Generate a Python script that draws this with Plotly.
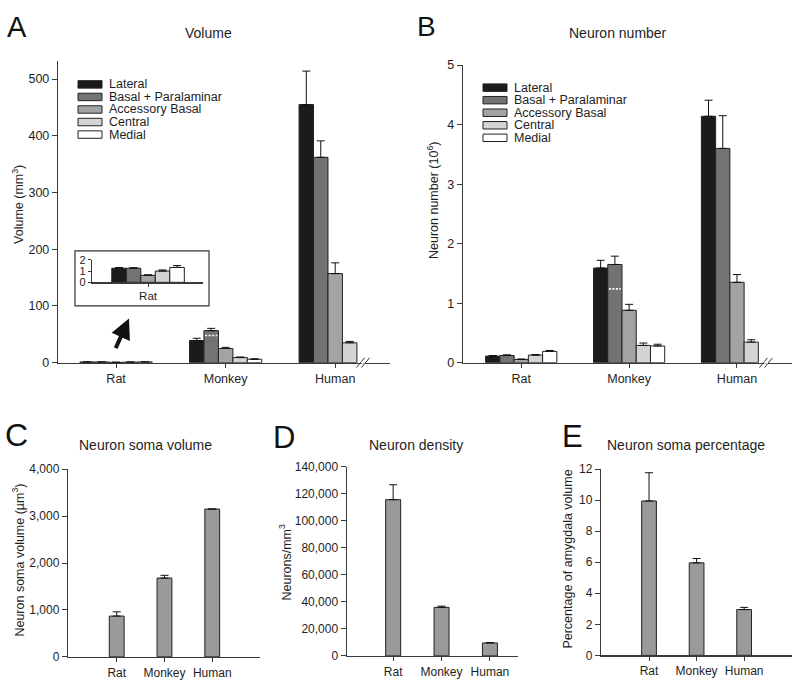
import plotly.graph_objects as go

# ---------------- data ----------------
species = ["Rat", "Monkey", "Human"]
regions = ["Lateral", "Basal + Paralaminar", "Accessory Basal", "Central", "Medial"]
region_colors = ["#1b1b1b", "#737373", "#a3a3a3", "#d4d4d4", "#ffffff"]

# Panel A: volume (mm3), per region, [Rat, Monkey, Human]
vol_lateral = [1.25, 39, 455]
vol_basal = [1.25, 56.5, 362]
vol_accbasal = [0.62, 25, 157]
vol_central = [1.0, 9, 35]
vol_medial = [1.32, 6, None]
vol_err_lateral = [0.06, 4, 59]
vol_err_basal = [0.05, 4, 29]
vol_err_accbasal = [0.05, 2, 19]
vol_err_central = [0.1, 1, 2.5]
vol_err_medial = [0.17, 0.8, None]

# Panel B: neuron number (10^6)
num_lateral = [0.11, 1.59, 4.14]
num_basal = [0.12, 1.65, 3.60]
num_accbasal = [0.055, 0.88, 1.35]
num_central = [0.127, 0.29, 0.345]
num_medial = [0.19, 0.28, None]
num_err_lateral = [0.01, 0.13, 0.27]
num_err_basal = [0.012, 0.14, 0.55]
num_err_accbasal = [0.005, 0.10, 0.13]
num_err_central = [0.01, 0.04, 0.04]
num_err_medial = [0.015, 0.03, None]

# basal-only level inside monkey Basal+Paralaminar bar (dotted line)
basal_only_monkey_vol = 48
basal_only_monkey_num = 1.24

# Panel C: neuron soma volume (um3)
soma_vol = [870, 1680, 3150]
soma_vol_err = [90, 58, 0]
# Panel D: neuron density (neurons/mm3)
density = [115500, 35900, 9600]
density_err = [11000, 900, 300]
# Panel E: neuron soma percentage of amygdala volume
soma_pct = [9.95, 5.96, 2.95]
soma_pct_err = [1.82, 0.28, 0.14]

vol_series = [vol_lateral, vol_basal, vol_accbasal, vol_central, vol_medial]
vol_errs = [vol_err_lateral, vol_err_basal, vol_err_accbasal, vol_err_central, vol_err_medial]
num_series = [num_lateral, num_basal, num_accbasal, num_central, num_medial]
num_errs = [num_err_lateral, num_err_basal, num_err_accbasal, num_err_central, num_err_medial]

# ---------------- helpers ----------------
W, H = 800, 693
FONT = "Arial, Liberation Sans, sans-serif"
TXT = "#1e1e1e"
LINE = "#3a3a3a"
BARGAP = 0.34


def px(x):
    return x / W


def py(y):
    return 1 - y / H


def errbar(arr):
    return dict(type="data", symmetric=False, array=arr,
                arrayminus=[0 if a is not None else None for a in arr],
                color="#111", thickness=1, width=4, visible=True)


fig = go.Figure()
xs = list(range(len(species)))

# Panel A and B grouped bars
for i, name in enumerate(regions):
    fig.add_trace(go.Bar(x=xs, y=vol_series[i], name=name, error_y=errbar(vol_errs[i]),
                         marker=dict(color=region_colors[i], line=dict(color="#222", width=1)),
                         xaxis="x", yaxis="y", showlegend=False))
    fig.add_trace(go.Bar(x=xs, y=num_series[i], name=name, error_y=errbar(num_errs[i]),
                         marker=dict(color=region_colors[i], line=dict(color="#222", width=1)),
                         xaxis="x2", yaxis="y2", showlegend=False))
    # inset (rat only)
    fig.add_trace(go.Bar(x=[0], y=[vol_series[i][0]], name=name, error_y=errbar([vol_errs[i][0]]),
                         marker=dict(color=region_colors[i], line=dict(color="#222", width=1)),
                         xaxis="x6", yaxis="y6", showlegend=False))

# dotted white line inside monkey Basal+Paralaminar bar
bw = (1 - BARGAP) / len(regions)
bc = 1 + (1 - 2) * bw
for yv, xa, ya in [(basal_only_monkey_vol, "x", "y"), (basal_only_monkey_num, "x2", "y2")]:
    fig.add_trace(go.Scatter(x=[bc - bw * 0.42, bc + bw * 0.42], y=[yv, yv], mode="lines",
                             line=dict(color="white", width=1.6, dash="2px,1.5px"),
                             xaxis=xa, yaxis=ya, showlegend=False, hoverinfo="skip"))

# Panels C, D, E
for vals, errs, xa, ya in [(soma_vol, soma_vol_err, "x3", "y3"),
                           (density, density_err, "x4", "y4"),
                           (soma_pct, soma_pct_err, "x5", "y5")]:
    fig.add_trace(go.Bar(x=xs, y=vals, width=0.31, error_y=errbar(errs),
                         marker=dict(color="#9a9a9a", line=dict(color="#222", width=1)),
                         xaxis=xa, yaxis=ya, showlegend=False))

# ---------------- axes ----------------
def xaxis(dom, rng, anchor, tickvals=xs, ticktext=species, size=12.5):
    return dict(domain=dom, range=rng, anchor=anchor, tickvals=tickvals, ticktext=ticktext,
                showline=True, linecolor=LINE, linewidth=1.2, ticks="outside", ticklen=4,
                tickcolor=LINE, showgrid=False, zeroline=False,
                tickfont=dict(family=FONT, size=size, color=TXT), fixedrange=True)


def yaxis(dom, rng, anchor, dtick, fmt=None, size=12.5):
    d = dict(domain=dom, range=rng, anchor=anchor, dtick=dtick, tick0=0,
             showline=True, linecolor=LINE, linewidth=1.2, ticks="outside", ticklen=5,
             tickcolor=LINE, showgrid=False, zeroline=False,
             tickfont=dict(family=FONT, size=size, color=TXT), fixedrange=True)
    if fmt:
        d["tickformat"] = fmt
    return d


fig.update_layout(
    xaxis=xaxis([px(58), px(390)], [-0.53, 2.5], "y"),
    yaxis=yaxis([py(363), py(55)], [0, 532], "x", 100),
    xaxis2=xaxis([px(463), px(792)], [-0.54, 2.51], "y2"),
    yaxis2=yaxis([py(363), py(59.3)], [0, 5], "x2", 1),
    xaxis3=xaxis([px(68), px(260)], [-1.02, 3.0], "y3", size=12),
    yaxis3=yaxis([py(663.3), py(471.7)], [0, 4000], "x3", 1000, ",d", size=12),
    xaxis4=xaxis([px(346.7), px(518)], [-0.96, 2.58], "y4", size=12),
    yaxis4=yaxis([py(662.3), py(469)], [0, 140000], "x4", 20000, ",d", size=12),
    xaxis5=xaxis([px(601), px(791.7)], [-1.01, 3.0], "y5", size=12),
    yaxis5=yaxis([py(661.7), py(471.7)], [0, 12], "x5", 2, size=12),
    xaxis6=xaxis([px(92), px(203)], [-0.51, 0.5], "y6", tickvals=[0], ticktext=["Rat"], size=11.5),
    yaxis6=yaxis([py(281), py(258)], [0, 2], "x6", 1, size=11),
)
fig.layout.xaxis6.ticklen = 3
fig.layout.yaxis6.ticklen = 3

shapes = []
annotations = []

# inset frame
shapes.append(dict(type="rect", xref="paper", yref="paper", x0=px(75), x1=px(209), y0=py(305), y1=py(249),
                   line=dict(color="#333", width=1.2), fillcolor="rgba(0,0,0,0)", layer="below"))

# axis break marks
for bx, by in [(363, 363), (766, 363)]:
    for dx in (-2.5, 2.5):
        shapes.append(dict(type="line", xref="paper", yref="paper",
                           x0=px(bx + dx - 4), y0=py(by + 5), x1=px(bx + dx + 4), y1=py(by - 5),
                           line=dict(color="#333", width=1)))
    shapes.append(dict(type="rect", xref="paper", yref="paper", x0=px(bx - 2), x1=px(bx + 2),
                       y0=py(by + 1), y1=py(by - 1), line=dict(width=0), fillcolor="white"))

# custom legends
for lx, ly, tx in [(78, 79, 107), (483, 82.3, 512)]:
    for i, name in enumerate(regions):
        yc = ly + i * 12.8
        shapes.append(dict(type="rect", xref="paper", yref="paper", x0=px(lx), x1=px(lx + 24),
                           y0=py(yc + 3.8), y1=py(yc - 3.8),
                           line=dict(color="#222", width=1), fillcolor=region_colors[i]))
        annotations.append(dict(x=px(tx), y=py(yc), xref="paper", yref="paper", text=name,
                                showarrow=False, xanchor="left", yanchor="middle",
                                font=dict(family=FONT, size=12.5, color=TXT)))

# titles
for t, x, y in [("Volume", 208, 27), ("Neuron number", 618, 27), ("Neuron soma volume", 145, 447),
                ("Neuron density", 416, 447), ("Neuron soma percentage", 686, 447)]:
    annotations.append(dict(x=px(x), y=py(y), xref="paper", yref="paper", text=t, showarrow=False,
                            xanchor="center", yanchor="middle", font=dict(family=FONT, size=14, color=TXT)))

# panel letters
for t, x, y, s in [("A", 17, 20, 29), ("B", 427, 20, 28), ("C", 16, 437, 32),
                   ("D", 284, 439, 31), ("E", 572, 438, 31)]:
    annotations.append(dict(x=px(x), y=py(y), xref="paper", yref="paper", text=t, showarrow=False,
                            xanchor="center", yanchor="middle", font=dict(family=FONT, size=s, color="#111")))

# y-axis titles
for t, x, y in [("Volume (mm<sup>3</sup>)", 18, 202), ("Neuron number (10<sup>6</sup>)", 433, 198),
                ("Neuron soma volume (µm<sup>3</sup>)", 18, 565), ("Neurons/mm<sup>3</sup>", 285, 567),
                ("Percentage of amygdala volume", 568, 564)]:
    annotations.append(dict(x=px(x), y=py(y), xref="paper", yref="paper", text=t, showarrow=False,
                            textangle=-90, xanchor="center", yanchor="middle",
                            font=dict(family=FONT, size=12.5, color=TXT)))

# arrow pointing to inset
annotations.append(dict(x=px(129), y=py(318), xref="paper", yref="paper", ax=-14, ay=31,
                        axref="pixel", ayref="pixel", text="", showarrow=True,
                        arrowhead=2, arrowsize=1, arrowwidth=4, arrowcolor="#111"))

fig.update_layout(
    width=W, height=H, margin=dict(l=0, r=0, t=0, b=0),
    paper_bgcolor="white", plot_bgcolor="white",
    barmode="group", bargap=BARGAP, bargroupgap=0,
    showlegend=False, shapes=shapes, annotations=annotations,
    font=dict(family=FONT, color=TXT),
)

fig.write_html("out.html", config={"displayModeBar": False, "staticPlot": True},
               post_script="document.body.style.margin='0';document.body.style.padding='0';")
